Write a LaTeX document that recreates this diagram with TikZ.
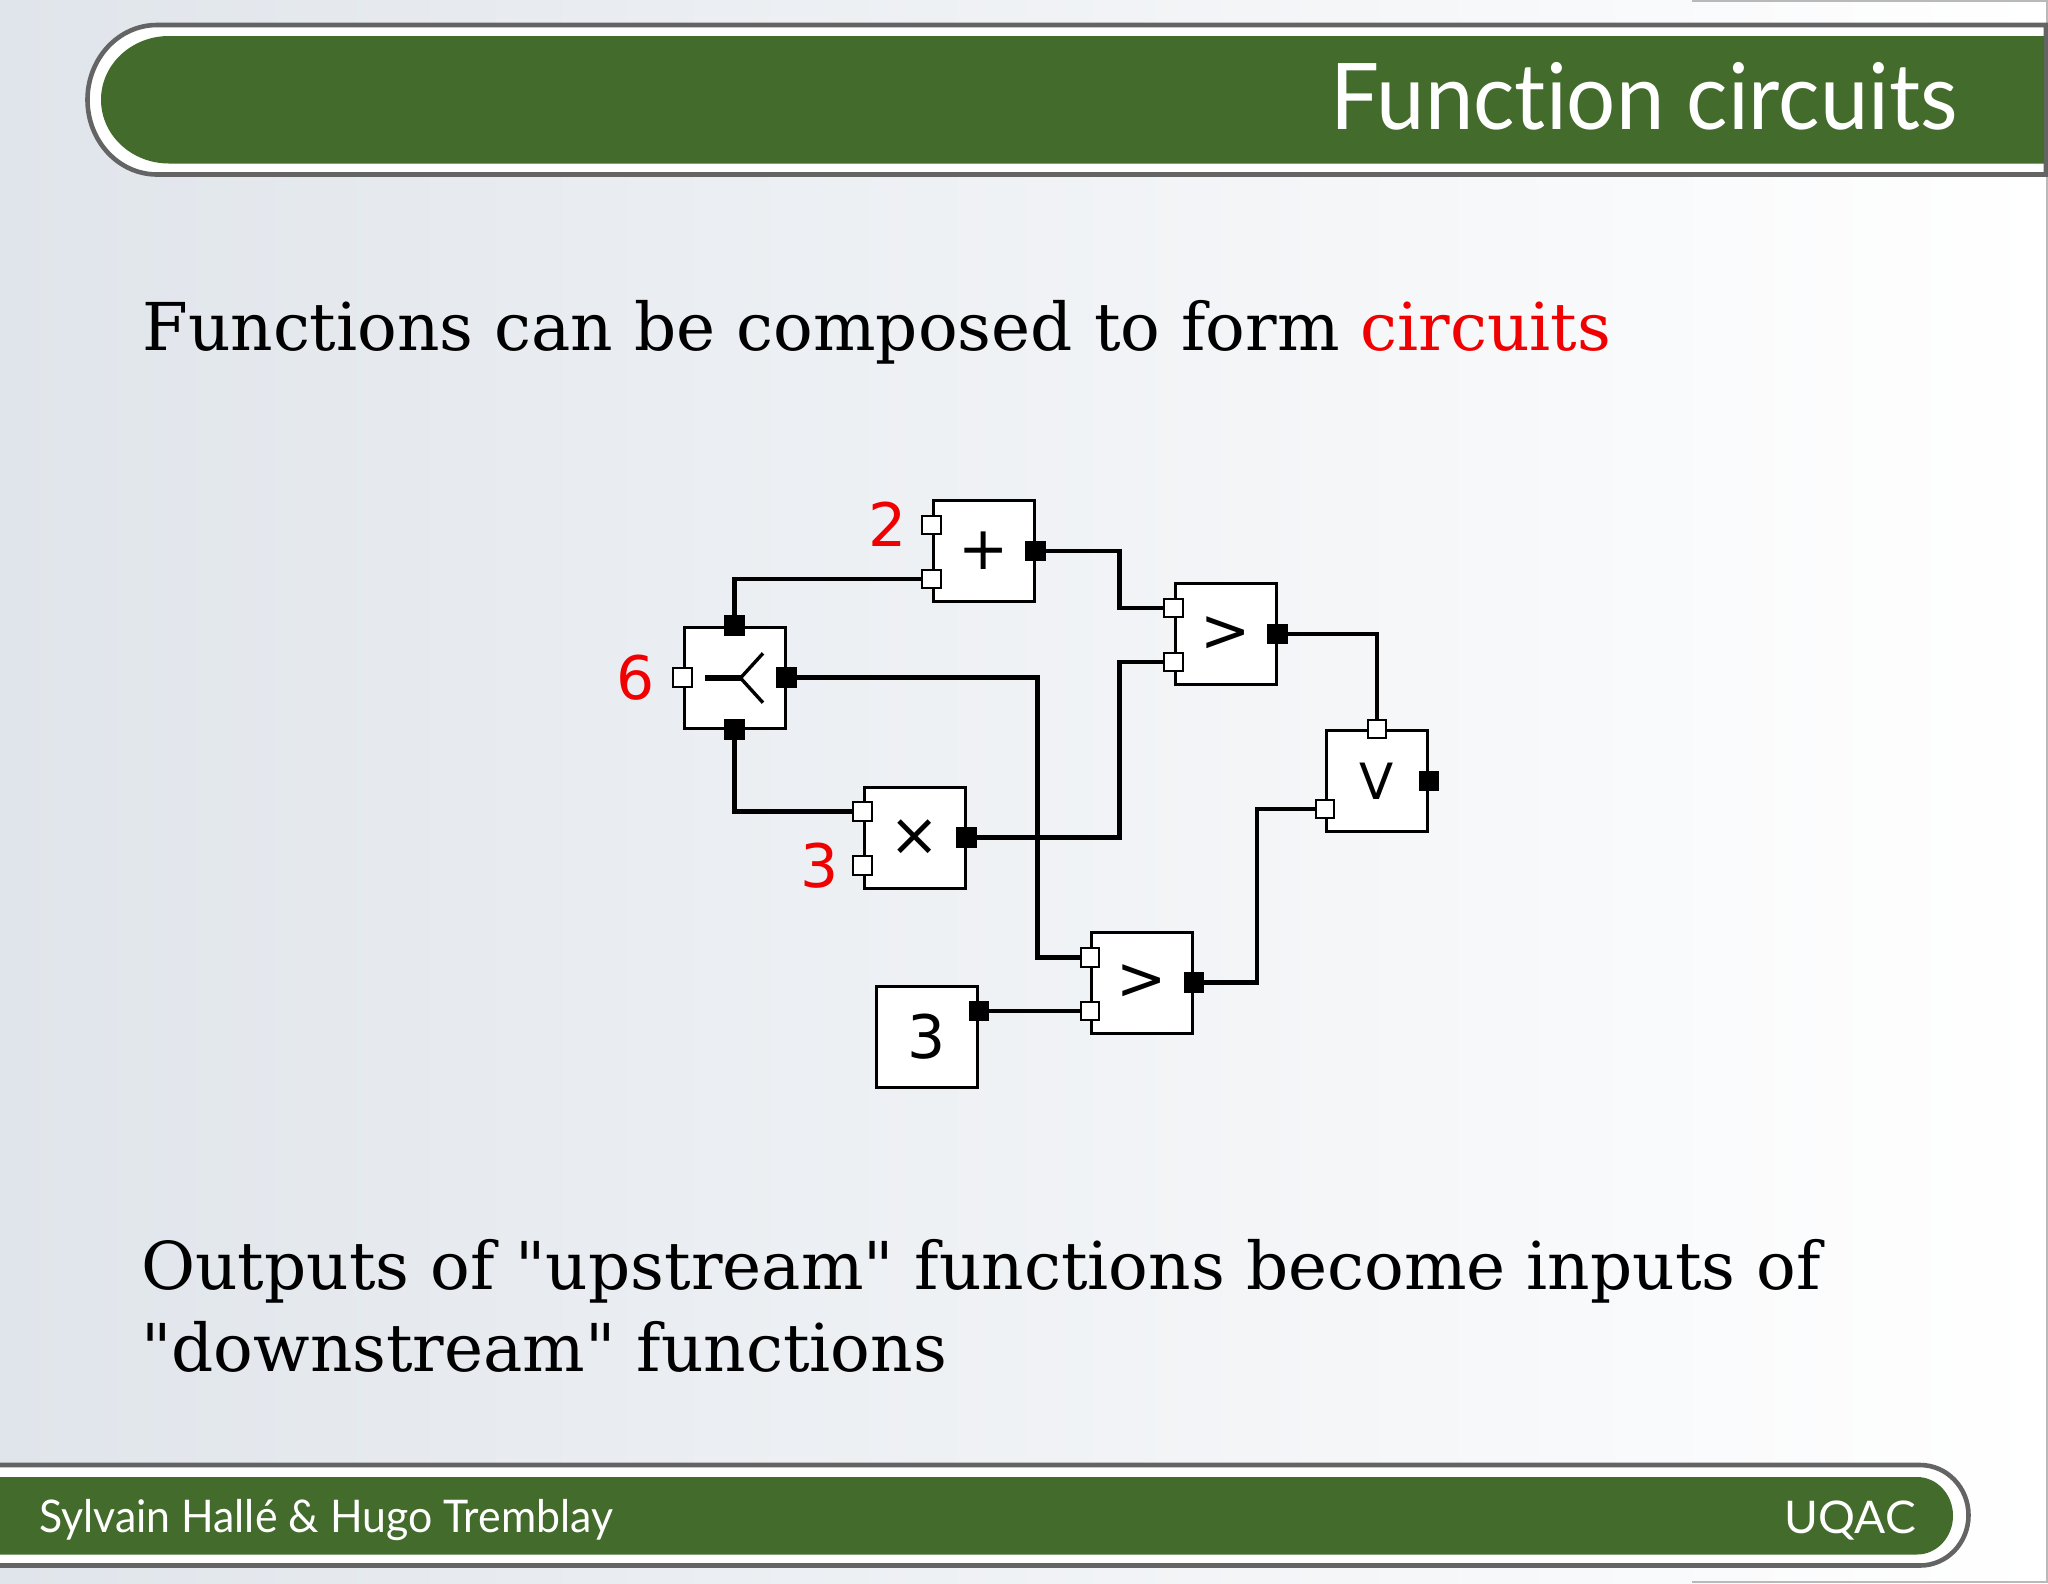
\documentclass[tikz,border=0pt]{standalone}
\usepackage{fontspec}
\usepackage{graphicx}
\setmainfont{DejaVu Serif}[Ligatures=TeXOff]
\newfontfamily\diagfont{DejaVu Sans}
\newfontfamily\gillfont{Lato}[Ligatures={CommonOff,TeXOff}]
\usetikzlibrary{calc}
\definecolor{bannergreen}{RGB}{67,107,44}
\definecolor{bordergray}{RGB}{100,100,100}
\definecolor{bgleft}{RGB}{224,229,235}
\definecolor{labred}{RGB}{240,0,0}
\definecolor{framegray}{RGB}{185,185,185}
\pgfdeclarelayer{bglayer}
\pgfdeclarelayer{wirelayer}
\pgfsetlayers{bglayer,wirelayer,main}
\begin{document}
\begin{tikzpicture}[x=1pt,y=1pt,yscale=-1,
  fnbox/.style={draw, line width=3, fill=white, minimum size=101, inner sep=0,
    font=\diagfont\fontsize{60}{60}\selectfont},
  inport/.style={draw, line width=2.4, fill=white, minimum size=18.5, inner sep=0},
  outport/.style={draw, line width=2.4, fill=black, minimum size=18.5, inner sep=0},
  wire/.style={line width=4.1},
  lab/.style={text=labred, font=\diagfont\fontsize{60}{60}\selectfont, inner sep=0},
  bodytext/.style={anchor=base west, inner sep=0, font=\fontsize{66}{81}\selectfont},
  bannertext/.style={inner sep=0, text=white}
]
\useasboundingbox (0,0) rectangle (2048,1583);
\begin{pgfonlayer}{bglayer}
  \shade[left color=bgleft, right color=white] (0,0) rectangle (2048,1583);
  \draw[framegray, line width=1.5] (1692,1) -- (2047.2,1) -- (2047.2,1582) -- (1692,1582);
\end{pgfonlayer}

% header banner
\draw[bordergray, line width=4.6, fill=white]
  (2046,25) -- (157,25) .. controls (118.6,25) and (87.5,58.45) .. (87.5,99.75)
  .. controls (87.5,141.05) and (118.6,174.5) .. (157,174.5) -- (2046,174.5) -- cycle;
\fill[bannergreen]
  (2044,36) -- (169,36) .. controls (131.4,36) and (101,64.55) .. (101,99.75)
  .. controls (101,134.95) and (131.4,163.5) .. (169,163.5) -- (2044,163.5) -- cycle;
\node[bannertext, anchor=base east] (title) at (1958,129.3)
  {\resizebox{627pt}{\height}{\gillfont\fontsize{92}{92}\selectfont Function circuits}};

% footer banner
\draw[bordergray, line width=4.6, fill=white]
  (-5,1465) -- (1920,1465) .. controls (1946.8,1465) and (1968.5,1487.5) .. (1968.5,1515.25)
  .. controls (1968.5,1543) and (1946.8,1565.5) .. (1920,1565.5) -- (-5,1565.5) -- cycle;
\fill[bannergreen]
  (-5,1477) -- (1917,1477) .. controls (1936.9,1477) and (1953,1494.35) .. (1953,1515.75)
  .. controls (1953,1537.15) and (1936.9,1554.5) .. (1917,1554.5) -- (-5,1554.5) -- cycle;
\node[bannertext, anchor=base west] (authors) at (39,1532.7)
  {\resizebox{574pt}{\height}{\gillfont\fontsize{45}{45}\selectfont Sylvain Hallé \& Hugo Tremblay}};
\node[bannertext, anchor=base east] (uqac) at (1916,1533)
  {\resizebox{131pt}{\height}{\gillfont\fontsize{45}{45}\selectfont UQAC}};

% body text
\node[bodytext] (t1) at (142,350) {Functions can be composed to form \textcolor{labred}{circuits}};
\node[bodytext] (t2) at (141,1289.5) {Outputs of "upstream" functions become inputs of};
\node[bodytext] (t3) at (141,1371) {"downstream" functions};

% function boxes
\node[fnbox] (plus) at (983.5,551) {+};
\node[fnbox] (gtA) at (1225.5,634) {>};
\node[fnbox, font=\diagfont\fontsize{50}{50}\selectfont] (or) at (1377,781) {V};
\node[fnbox] (fork) at (734.5,677.5) {};
\node[fnbox] (times) at (914.5,837.5) {×};
\node[fnbox] (gtB) at (1142,982.5) {>};
\node[fnbox] (c3) at (927,1036.5) {3};

% fork symbol
\draw[line width=6.5] ($(fork)+(-29.5,0.5)$) -- ($(fork)+(6,0.5)$);
\draw[line width=3.4] ($(fork)+(28.5,-24.2)$) -- ($(fork)+(6,0.5)$) -- ($(fork)+(28.5,25.2)$);

% ports
\node[inport] (plus-i1) at ($(plus.west)+(0,-26)$) {};
\node[inport] (plus-i2) at ($(plus.west)+(0,28)$) {};
\node[outport] (plus-o) at (plus.east) {};
\node[inport] (gtA-i1) at ($(gtA.west)+(0,-26)$) {};
\node[inport] (gtA-i2) at ($(gtA.west)+(0,28)$) {};
\node[outport] (gtA-o) at (gtA.east) {};
\node[inport] (or-i1) at (or.north) {};
\node[inport] (or-i2) at ($(or.west)+(0,28)$) {};
\node[outport] (or-o) at (or.east) {};
\node[inport] (fork-i) at (fork.west) {};
\node[outport] (fork-t) at (fork.north) {};
\node[outport] (fork-r) at (fork.east) {};
\node[outport] (fork-b) at (fork.south) {};
\node[inport] (times-i1) at ($(times.west)+(0,-26)$) {};
\node[inport] (times-i2) at ($(times.west)+(0,28)$) {};
\node[outport] (times-o) at (times.east) {};
\node[inport] (gtB-i1) at ($(gtB.west)+(0,-25)$) {};
\node[inport] (gtB-i2) at ($(gtB.west)+(0,28.5)$) {};
\node[outport] (gtB-o) at (gtB.east) {};
\node[outport] (c3-o) at ($(c3.east)+(0,-25.5)$) {};

% constant labels
\node[lab] (l2) at (888,524) {2};
\node[lab] (l6) at (635.6,678) {6};
\node[lab] (l3) at (820,865.6) {3};

% wires
\begin{pgfonlayer}{wirelayer}
  \draw[wire] (fork-t.center) |- (plus-i2.center);
  \draw[wire] (plus-o.center) -- ++(84,0) |- (gtA-i1.center);
  \draw[wire] (gtA-o.center) -| (or-i1.center);
  \draw[wire] (fork-r.center) -- ++(251,0) |- (gtB-i1.center);
  \draw[wire] (fork-b.center) |- (times-i1.center);
  \draw[wire] (times-o.center) -- ++(153,0) |- (gtA-i2.center);
  \draw[wire] (c3-o.center) -- (gtB-i2.center);
  \draw[wire] (gtB-o.center) -- ++(63,0) |- (or-i2.center);
\end{pgfonlayer}
\end{tikzpicture}
\end{document}
